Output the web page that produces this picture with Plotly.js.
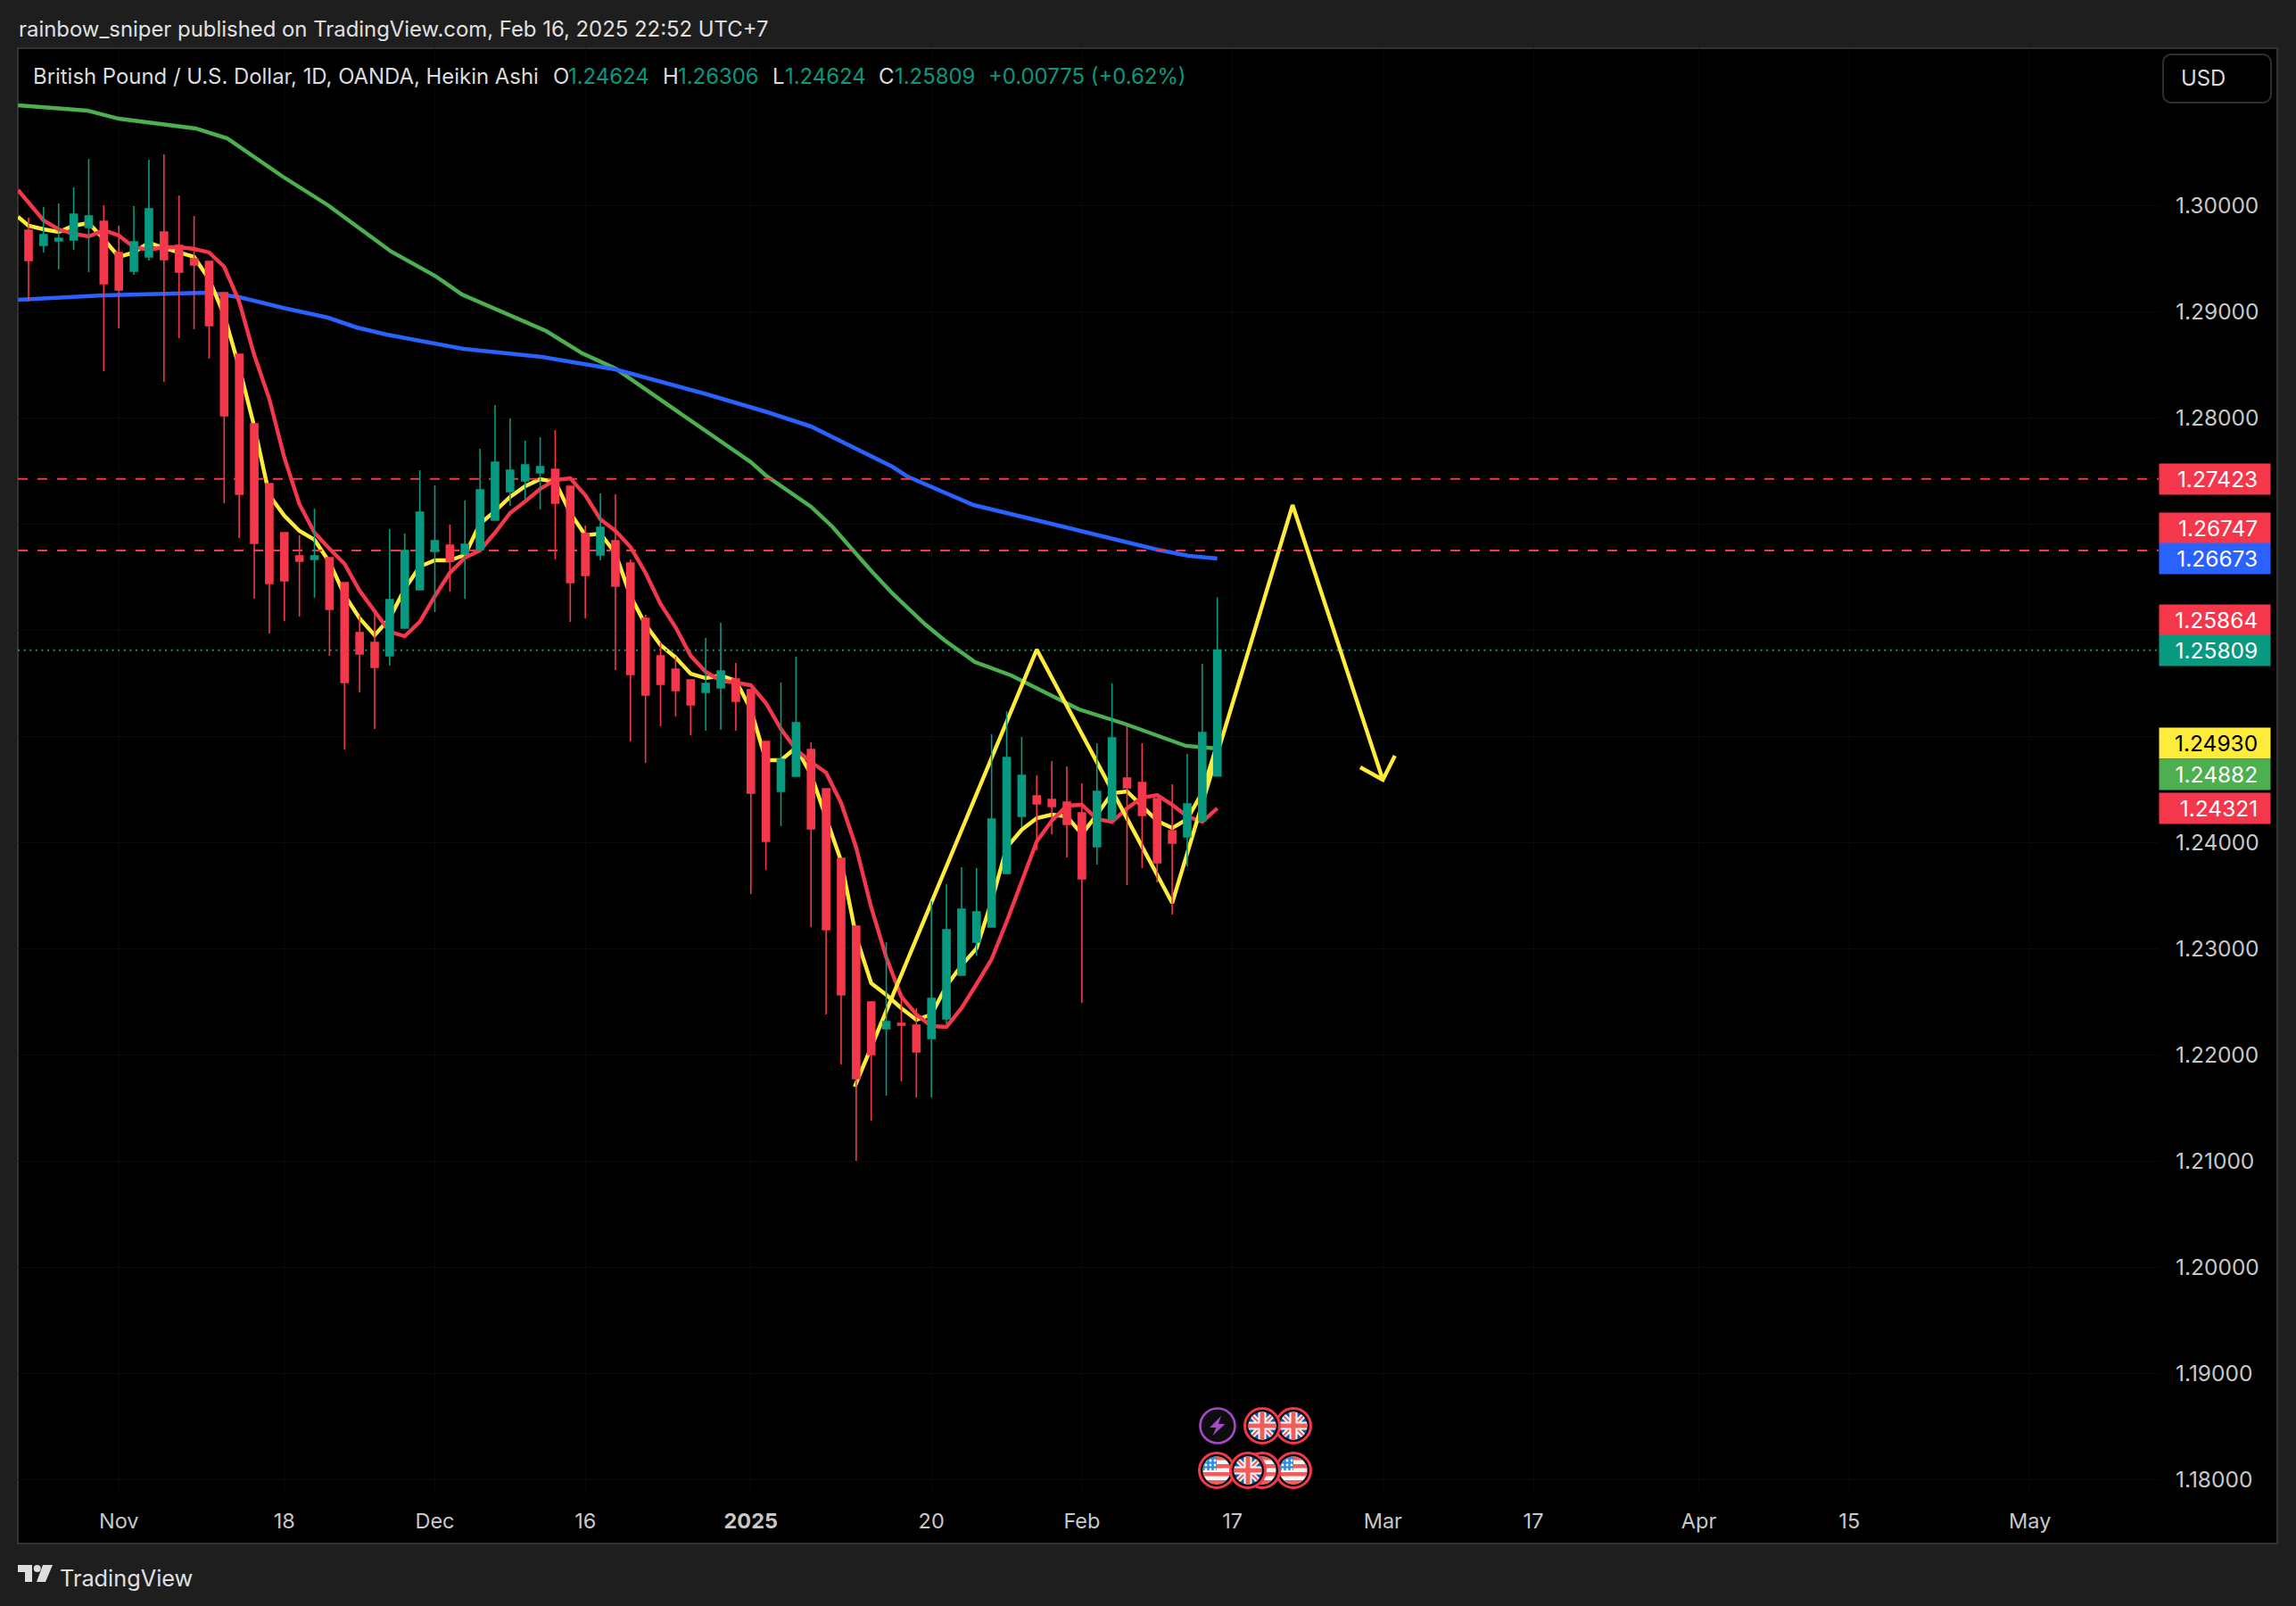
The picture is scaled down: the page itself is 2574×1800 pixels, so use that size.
<!DOCTYPE html>
<html>
<head>
<meta charset="utf-8">
<script src="https://cdn.plot.ly/plotly-3.0.1.min.js"></script>
<style>html,body{margin:0;padding:0;background:#1e1e1e}#chart{width:2574px;height:1800px}</style>
</head>
<body>
<div id="chart"></div>
<script>
// Heikin Ashi candles
const candleHigh = [1.29882,1.29983,1.30017,1.30168,1.30437,1.3,1.29807,1.29992,1.30429,1.30479,
1.30092,1.29899,1.29471,1.29176,1.28597,1.27941,1.27378,1.26916,1.26891,1.27143,
1.26681,1.26445,1.26134,1.26176,1.2695,1.26907,1.27504,1.27361,1.26992,1.27218,
1.27706,1.28118,1.27992,1.27782,1.27815,1.27882,1.27353,1.26983,1.27286,1.27277,
1.26664,1.26143,1.25882,1.25748,1.25529,1.25924,1.26067,1.25689,1.25437,1.2495,
1.25504,1.25748,1.24941,1.24504,1.23849,1.2321,1.22504,1.23059,1.22588,1.22437,
1.23445,1.23605,1.23765,1.23756,1.25017,1.25235,1.24992,1.2463,1.24765,1.24714,
1.24555,1.24933,1.25496,1.25092,1.24933,1.24412,1.24546,1.24832,1.25681,1.26306];
const candleOpen = [1.29765,1.29622,1.29664,1.29672,1.2979,1.29849,1.29555,1.29378,1.29513,1.29748,
1.29622,1.29496,1.29471,1.29176,1.28597,1.27941,1.27378,1.26916,1.26697,1.26664,
1.26681,1.26445,1.25975,1.25882,1.25756,1.26017,1.26378,1.26739,1.26798,1.26714,
1.26756,1.27034,1.27303,1.27403,1.27479,1.27513,1.27353,1.26907,1.26706,1.2684,
1.2663,1.26109,1.25756,1.2563,1.25529,1.25412,1.25454,1.25538,1.25437,1.2495,
1.24479,1.24622,1.24874,1.24504,1.23849,1.2321,1.22496,1.22244,1.22294,1.22277,
1.22151,1.22336,1.22748,1.23059,1.23202,1.23706,1.24244,1.24437,1.24403,1.24378,
1.24277,1.23958,1.24218,1.24605,1.24563,1.24412,1.24109,1.2405,1.24202,1.24624];
const candleClose = [1.29479,1.29723,1.29689,1.29916,1.29899,1.2926,1.29202,1.29655,1.29966,1.29487,
1.2937,1.29437,1.28866,1.28017,1.27277,1.26815,1.26437,1.26462,1.26647,1.26697,
1.26193,1.25504,1.25773,1.25647,1.26286,1.26748,1.27109,1.2684,1.26647,1.26807,
1.27319,1.2758,1.27504,1.27555,1.27538,1.27193,1.26445,1.26513,1.26966,1.26412,
1.2558,1.25387,1.25487,1.25429,1.25294,1.25496,1.25613,1.25328,1.24462,1.24008,
1.24781,1.25126,1.24126,1.23176,1.22563,1.21773,1.22,1.22311,1.22277,1.22025,
1.22529,1.23176,1.2337,1.23344,1.24218,1.24798,1.2463,1.24361,1.24336,1.24168,
1.23655,1.24479,1.24983,1.24513,1.24252,1.23807,1.23992,1.24361,1.25034,1.25809];
const candleLow = [1.29092,1.29555,1.29395,1.2958,1.2937,1.28437,1.2884,1.29345,1.29479,1.28336,
1.28748,1.28832,1.28555,1.27193,1.26866,1.26294,1.25966,1.26084,1.26126,1.26303,
1.25756,1.24874,1.25412,1.25067,1.25664,1.26017,1.26378,1.26168,1.26361,1.26294,
1.26756,1.27034,1.27168,1.27235,1.27134,1.26664,1.26076,1.26109,1.26655,1.25622,
1.2495,1.24748,1.25092,1.25185,1.25008,1.2505,1.25059,1.2505,1.23513,1.23739,
1.24151,1.24622,1.23202,1.22378,1.21908,1.21,1.21378,1.21613,1.21748,1.21597,
1.21597,1.22286,1.22748,1.22933,1.23202,1.23706,1.24143,1.23924,1.24076,1.23857,
1.22487,1.2379,1.24218,1.23597,1.23756,1.23622,1.23319,1.23773,1.24202,1.24624];

// Fast and slow short averages: first value is the partly hidden bar at the left edge
const fastAverage = [1.29891,1.29807,1.29773,1.29748,1.29807,1.29832,1.29681,1.29513,1.29555,1.29647,
1.29597,1.29555,1.29513,1.29303,1.28966,1.28471,1.27916,1.27269,1.27076,1.26933,
1.26849,1.26639,1.26328,1.26109,1.2595,1.26109,1.26387,1.26597,1.26655,1.26655,
1.26706,1.27,1.27118,1.27252,1.27353,1.2742,1.27395,1.27101,1.26891,1.26907,
1.26723,1.26319,1.2605,1.25857,1.2574,1.25588,1.25546,1.25571,1.25521,1.25252,
1.24773,1.24773,1.24891,1.24639,1.24244,1.23823,1.23109,1.22672,1.22563,1.22437,
1.22328,1.22378,1.22647,1.2284,1.23,1.23445,1.2395,1.24118,1.24227,1.2426,
1.24244,1.24076,1.2426,1.24462,1.24479,1.24345,1.24202,1.24134,1.24218,1.2447,1.2493];
const redAverage = [1.30143,1.30025,1.29857,1.29773,1.29731,1.29706,1.29765,1.29714,1.29605,1.2958,
1.29605,1.29605,1.29588,1.29555,1.2942,1.29092,1.28588,1.28176,1.27622,1.27185,
1.26916,1.26765,1.26622,1.2637,1.26176,1.25983,1.25941,1.26076,1.26319,1.26538,
1.26681,1.26748,1.26916,1.27101,1.2721,1.27328,1.27412,1.27429,1.27269,1.27042,
1.26933,1.26781,1.26538,1.26244,1.26025,1.25756,1.25605,1.25521,1.25504,1.25479,
1.25311,1.25067,1.24874,1.24756,1.24655,1.2437,1.2395,1.23387,1.22916,1.22546,
1.22378,1.22269,1.22261,1.22437,1.22664,1.22899,1.23252,1.2363,1.24008,1.24202,
1.24345,1.24353,1.24218,1.24193,1.24319,1.2442,1.24445,1.24353,1.24244,1.24193,1.24321];

const greenBars = [-0.7,3.9,6,11.1,13.2,16.9,19.9,24.1,27,28.8,34.4,36.8,39,42,44.9,48,49,52,53.4,55.9,57.4,59.6,60.9,62.9,65.3,69.8,72.8,75.8,76.9,79];
const greenAverage = [1.30941,1.30891,1.30815,1.30723,1.3063,1.30269,1.3,1.29563,1.29336,1.2916,1.28815,1.28605,1.28462,1.28168,1.27874,1.2758,1.27454,1.2716,1.26975,1.26571,1.26345,1.2605,1.25899,1.25697,1.25571,1.25252,1.25118,1.24958,1.24908,1.24882];
const blueBars = [-0.7,5,12,14,16.9,19.9,21.8,23.8,28.9,34.1,39,45.1,49.1,52,54.4,57.4,58.4,62.8,68.2,71,75,77.1,79];
const blueAverage = [1.29109,1.29151,1.29176,1.29134,1.29034,1.28941,1.28849,1.28782,1.28647,1.28571,1.28454,1.28218,1.2805,1.27916,1.27748,1.27538,1.27445,1.27176,1.26992,1.26891,1.26756,1.26697,1.26673];

// Hand-drawn projection and its arrow head
const sketchBars = [54.9,67,76,84,90,88.5,90,90.8];
const sketchPrices = [1.21697,1.25815,1.23428,1.27176,1.24588,1.24706,1.24588,1.24815];

const levelPrices = [1.27423,1.26747];
const lastPrice = 1.25809;
const tagPrices = [1.27423,1.26747,1.26673,1.25864,1.25809,1.2493,1.24882,1.24321];
const tagLabels = ['1.27423','1.26747','1.26673','1.25864','1.25809','1.24930','1.24882','1.24321'];
const tagFills = ['#f4374a','#f4374a','#2962ff','#f4374a','#089981','#ffeb3b','#4caf50','#f4374a'];
const tagInk = ['#ffffff','#ffffff','#ffffff','#ffffff','#ffffff','#000000','#ffffff','#ffffff'];
const tagNudge = [0,25,0,27,0,0,-29,0];

// Price grid runs every 0.01; labels at 1.25, 1.26 and 1.27 are covered by the price tags in the picture
const priceTicks = [1.18,1.19,1.2,1.21,1.22,1.23,1.24,1.25,1.26,1.27,1.28,1.29,1.3];
const priceLabels = ['1.18000','1.19000','1.20000','1.21000','1.22000','1.23000','1.24000','','','','1.28000','1.29000','1.30000'];
const timeTicks = [6,17,27,37,48,60,70,80,90,100,111,121,133];
const timeLabels = ['Nov','18','Dec','16','<b>2025</b>','20','Feb','17','Mar','17','Apr','15','May'];

const barIndex = candleOpen.map((_, i) => i);
const avgIndex = [-0.7].concat(barIndex);

// Page geometry helpers (pixels to paper fractions)
const W = 2574, H = 1800, L = 20, R = 2420, T = 54, B = 1673;
const px = x => (x - L) / (R - L);
const py = y => 1 - (y - T) / (B - T);
const FONT = 'Inter, "Noto Sans", sans-serif';
const UP = '#089981', DOWN = '#f4374a', YEL = '#ffeb3b';
const HEAD = 23.9;

function poly(pts, close) {
  return 'M' + pts.map(p => px(p[0]).toFixed(6) + ',' + py(p[1]).toFixed(6)).join('L') + (close ? 'Z' : '');
}
function roundRect(x0, y0, x1, y1, r) {
  const s = [];
  for (let a = 0; a < 4; a++) {
    const cx = a === 0 || a === 3 ? x1 - r : x0 + r;
    const cy = a < 2 ? y1 - r : y0 + r;
    for (let k = 0; k <= 4; k++) {
      const t = (a * 90 + k * 22.5) * Math.PI / 180;
      s.push([cx + r * Math.cos(t), cy + r * Math.sin(t)]);
    }
  }
  return poly(s, true);
}
function textAt(text, x, y, size, color) {
  return {text, xref: 'paper', yref: 'paper', x: px(x - 1.5), y: py(y), xanchor: 'left', yanchor: 'middle',
    showarrow: false, font: {family: FONT, size, color}};
}

function line(x, y, color, width, dash) {
  return {type: 'scatter', mode: 'lines', x, y, hoverinfo: 'skip', showlegend: false,
    line: {color, width, dash: dash || 'solid', shape: 'linear'}};
}

const traces = [
  line(greenBars, greenAverage, '#4caf50', 4.4),
  line(blueBars, blueAverage, '#2962ff', 4.6),
  line(avgIndex, fastAverage, YEL, 4.4),
  line(avgIndex, redAverage, DOWN, 4.4),
  line([-0.711, 141.553], [levelPrices[0], levelPrices[0]], DOWN, 2, '11px,11px'),
  line([-0.711, 141.553], [levelPrices[1], levelPrices[1]], DOWN, 2, '11px,11px'),
  line([-0.711, 141.553], [lastPrice, lastPrice], UP, 2, '2px,4.6px'),
  line(sketchBars, sketchPrices, YEL, 4.4),
  {type: 'candlestick', x: barIndex, open: candleOpen, high: candleHigh, low: candleLow, close: candleClose,
    yaxis: 'y2', hoverinfo: 'skip', showlegend: false, whiskerwidth: 0,
    increasing: {line: {color: UP, width: 1.6}, fillcolor: UP},
    decreasing: {line: {color: DOWN, width: 1.6}, fillcolor: DOWN}}
];

const annotations = [
  textAt('rainbow_sniper published on TradingView.com, Feb 16, 2025 22:52 UTC+7', 20.5, 32, HEAD, '#e0e0e0'),
  textAt('British Pound / U.S. Dollar, 1D, OANDA, Heikin Ashi', 36.5, 86, HEAD, '#dcdcdc'),
  textAt('O', 619, 86, HEAD, '#dcdcdc'),
  textAt('1.24624', 636, 86, HEAD, UP),
  textAt('H', 742, 86, HEAD, '#dcdcdc'),
  textAt('1.26306', 759, 86, HEAD, UP),
  textAt('L', 865, 86, HEAD, '#dcdcdc'),
  textAt('1.24624', 879, 86, HEAD, UP),
  textAt('C', 985, 86, HEAD, '#dcdcdc'),
  textAt('1.25809', 1002, 86, HEAD, UP),
  textAt('+0.00775 (+0.62%)', 1107, 86, HEAD, UP),
  textAt('USD', 2444, 88, HEAD, '#dcdcdc'),
  textAt('TradingView', 66.5, 1768, 25.3, '#e0e0e0')
];
tagPrices.forEach((p, i) => annotations.push({
  text: tagLabels[i] + '\u00a0\u00a0', xref: 'paper', yref: 'y', x: 1, y: p, xanchor: 'left', yanchor: 'middle',
  yshift: tagNudge[i], showarrow: false, width: 124, height: 34, align: 'right', valign: 'middle', borderpad: 0,
  bgcolor: tagFills[i], font: {family: FONT, size: 24.5, color: tagInk[i]}
}));

const shapes = [
  {type: 'rect', xref: 'paper', yref: 'paper', layer: 'below', x0: px(20), x1: px(2553), y0: py(1730), y1: py(54),
    fillcolor: '#000000', line: {color: '#333333', width: 2}},
  {type: 'path', xref: 'paper', yref: 'paper', layer: 'above', path: roundRect(2425, 61, 2546, 115, 9),
    fillcolor: '#000000', line: {color: '#2e2e2e', width: 2}},
  {type: 'path', xref: 'paper', yref: 'paper', path: poly([[20,1754],[36,1754],[36,1773],[28,1773],[28,1762],[20,1762]], true),
    fillcolor: '#dddddd', line: {width: 0}},
  {type: 'path', xref: 'paper', yref: 'paper', path: poly([[48,1754],[59,1754],[51,1773],[41,1773]], true),
    fillcolor: '#dddddd', line: {width: 0}},
  {type: 'circle', xref: 'paper', yref: 'paper', x0: px(37.7), x1: px(45.7), y0: py(1762), y1: py(1754),
    fillcolor: '#dddddd', line: {width: 0}}
];

// Event badges on the time axis
const ring = '<circle cx="21" cy="21" r="19.5" fill="#0d0d0d" stroke="#f4374a" stroke-width="3"/>';
const clip = '<clipPath id="c"><circle cx="21" cy="21" r="15.5"/></clipPath>';
const ukFlag = ring + clip + '<g clip-path="url(#c)"><rect width="42" height="42" fill="#1b5bb5"/>' +
  '<path d="M4 4L38 38M38 4L4 38" stroke="#f7f7f7" stroke-width="6"/><path d="M4 4L38 38M38 4L4 38" stroke="#f45b5b" stroke-width="2"/>' +
  '<path d="M21 0V42M0 21H42" stroke="#f7f7f7" stroke-width="9"/><path d="M21 0V42M0 21H42" stroke="#f45b5b" stroke-width="5"/></g>';
const usFlag = ring + clip + '<g clip-path="url(#c)"><rect width="42" height="42" fill="#f7f7f7"/>' +
  '<rect y="14" width="42" height="4.5" fill="#f45b5b"/><rect y="23" width="42" height="4.5" fill="#f45b5b"/><rect y="32" width="42" height="5" fill="#f45b5b"/><rect y="5" width="42" height="4.5" fill="#f45b5b"/>' +
  '<rect width="21" height="21" fill="#2c8fe8"/>' +
  '<g fill="#ffffff"><circle cx="9" cy="10" r="1.4"/><circle cx="14" cy="10" r="1.4"/><circle cx="19" cy="10" r="1.4"/><circle cx="9" cy="15" r="1.4"/><circle cx="14" cy="15" r="1.4"/><circle cx="19" cy="15" r="1.4"/><circle cx="9" cy="20" r="1.4"/><circle cx="14" cy="20" r="1.4"/><circle cx="19" cy="20" r="1.4"/></g></g>';
const bolt = '<circle cx="21" cy="21" r="19.5" fill="#0d0d0d" stroke="#a54ac6" stroke-width="2.6"/>' +
  '<path d="M25 10L12 23H19.5L15.5 32L29.5 19H22Z" fill="#a54ac6"/>';
const svgUri = body => 'data:image/svg+xml,' + encodeURIComponent('<svg xmlns="http://www.w3.org/2000/svg" width="42" height="42" viewBox="0 0 42 42">' + body + '</svg>');
const badge = (body, x, y) => ({source: svgUri(body), xref: 'paper', yref: 'paper', x: px(x), y: py(y),
  sizex: 42 / (R - L), sizey: 42 / (B - T), xanchor: 'center', yanchor: 'middle', sizing: 'stretch', layer: 'above'});
const images = [
  badge(bolt, 1365, 1598), badge(ukFlag, 1450, 1598), badge(ukFlag, 1415, 1598),
  badge(usFlag, 1450, 1648), badge(usFlag, 1415, 1648), badge(usFlag, 1364, 1648), badge(ukFlag, 1399, 1648)
];

const yRange = [1.17874, 1.31479];
const layout = {
  width: W, height: H, autosize: false,
  paper_bgcolor: '#1e1e1e', plot_bgcolor: 'rgba(0,0,0,0)',
  margin: {l: L, r: W - R, t: T, b: H - B, pad: 0},
  showlegend: false, hovermode: false, dragmode: false,
  boxmode: 'overlay', boxgap: 0.32,
  font: {family: FONT, size: 23, color: '#c8c8c8'},
  xaxis: {type: 'linear', range: [-0.711, 141.553], tickmode: 'array', tickvals: timeTicks, ticktext: timeLabels,
    showgrid: true, gridcolor: '#0a0a0a', gridwidth: 1, zeroline: false, showline: false, ticks: '',
    ticklabelstandoff: 15, tickangle: 0, tickfont: {family: FONT, size: 23.5, color: '#c8c8c8'},
    rangeslider: {visible: false}, fixedrange: true},
  yaxis: {type: 'linear', side: 'right', range: yRange, tickmode: 'array', tickvals: priceTicks, ticktext: priceLabels,
    showgrid: true, gridcolor: '#0a0a0a', gridwidth: 1, zeroline: false, showline: false, ticks: '',
    ticklabelstandoff: 18, tickfont: {family: FONT, size: 24.5, color: '#c8c8c8'}, fixedrange: true},
  yaxis2: {overlaying: 'y', side: 'right', range: yRange, visible: false, showgrid: false, fixedrange: true},
  annotations, shapes, images
};
Plotly.newPlot('chart', traces, layout, {displayModeBar: false, staticPlot: true, responsive: false});
</script>
</body>
</html>
